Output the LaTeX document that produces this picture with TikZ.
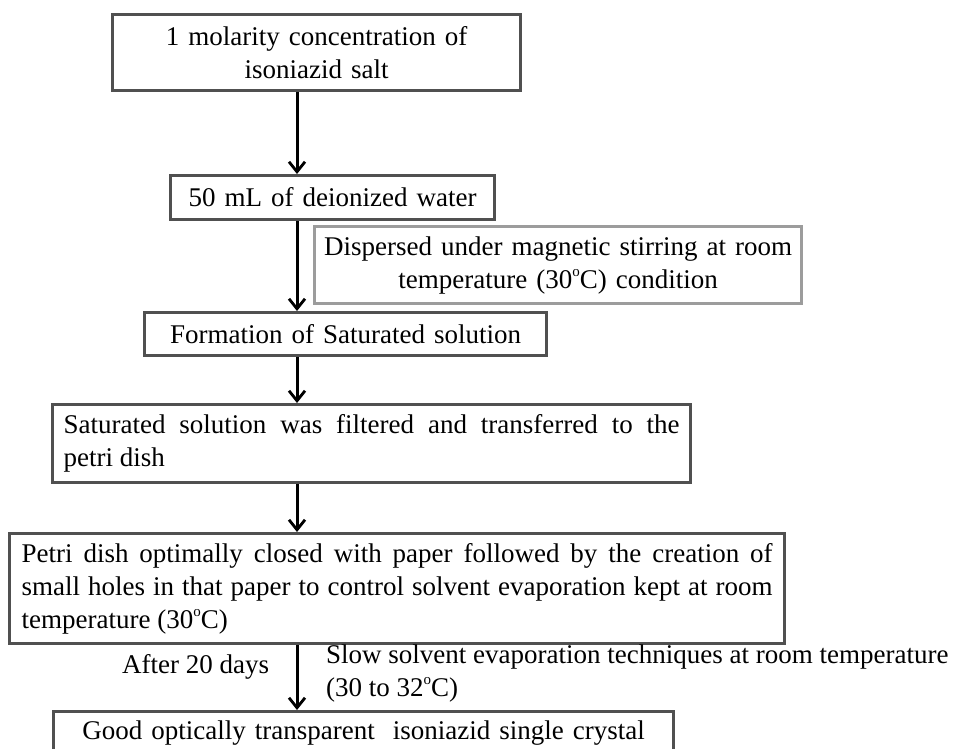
\documentclass[tikz,border=0pt]{standalone}
\usepackage{fontspec}
\setmainfont{Liberation Serif}
\usetikzlibrary{arrows.meta}
\definecolor{boxline}{HTML}{505050}
\definecolor{lightline}{HTML}{9C9C9C}
\newcommand{\degsup}{\raisebox{0.42em}{\fontsize{15}{15}\selectfont o}}
\begin{document}
\begin{tikzpicture}[x=1pt,y=-1pt,
  txt/.style={font=\fontsize{27}{33}\selectfont, text=black},
  box/.style={txt, draw=boxline, line width=3.2pt, inner sep=0pt, anchor=north west, fill=white},
  graybox/.style={box, draw=lightline},
  arr/.style={line width=3pt, draw=black, -{Straight Barb[length=10pt,width=16pt,line width=2.8pt]}},
  lbl/.style={txt, inner sep=0pt}
]
\fill[white] (0,0) rectangle (955,748);
\useasboundingbox (0,0) rectangle (955,748);
\coordinate (axis) at (297,0);

\node[box, minimum width=408pt, minimum height=76pt, text width=390pt, align=center] (b1) at (111,13)
  {1 molarity concentration of\\ isoniazid salt};
\node[box, minimum width=324pt, minimum height=44pt, text width=310pt, align=center] (b2) at (169,174)
  {50 mL of deionized water};
\node[graybox, minimum width=487pt, minimum height=77pt, text width=470pt, align=center] (g) at (313,225)
  {Dispersed under magnetic stirring at room\\ temperature (30\degsup C) condition};
\node[box, minimum width=402pt, minimum height=43pt, text width=390pt, align=center] (b3) at (143,311)
  {Formation of Saturated solution};
\node[box, minimum width=638pt, minimum height=78pt, text width=616pt, align=justify] (b4) at (51,403)
  {Saturated solution was filtered and transferred to the\linebreak petri dish};
\node[box, minimum width=775pt, minimum height=110pt, text width=751pt, align=justify] (b5) at (8,532)
  {Petri dish optimally closed with paper followed by the creation of\linebreak small holes in that paper to control solvent evaporation kept at room\linebreak temperature (30\degsup C)};
\node[box, minimum width=620pt, minimum height=43pt, text width=600pt, align=center] (b6) at (52,710)
  {Good optically transparent\ \ isoniazid single crystal};

\node[lbl, anchor=west] (l1) at (122,667) {After 20 days};
\node[lbl, anchor=west, align=left] (l2) at (326,673)
  {Slow solvent evaporation techniques at room temperature\\(30 to 32\degsup C)};

\draw[arr] (b1.south -| axis) -- (b2.north -| axis);
\draw[arr] (b2.south -| axis) -- (b3.north -| axis);
\draw[arr] (b3.south -| axis) -- (b4.north -| axis);
\draw[arr] (b4.south -| axis) -- (b5.north -| axis);
\draw[arr] (b5.south -| axis) -- (b6.north -| axis);
\end{tikzpicture}
\end{document}
